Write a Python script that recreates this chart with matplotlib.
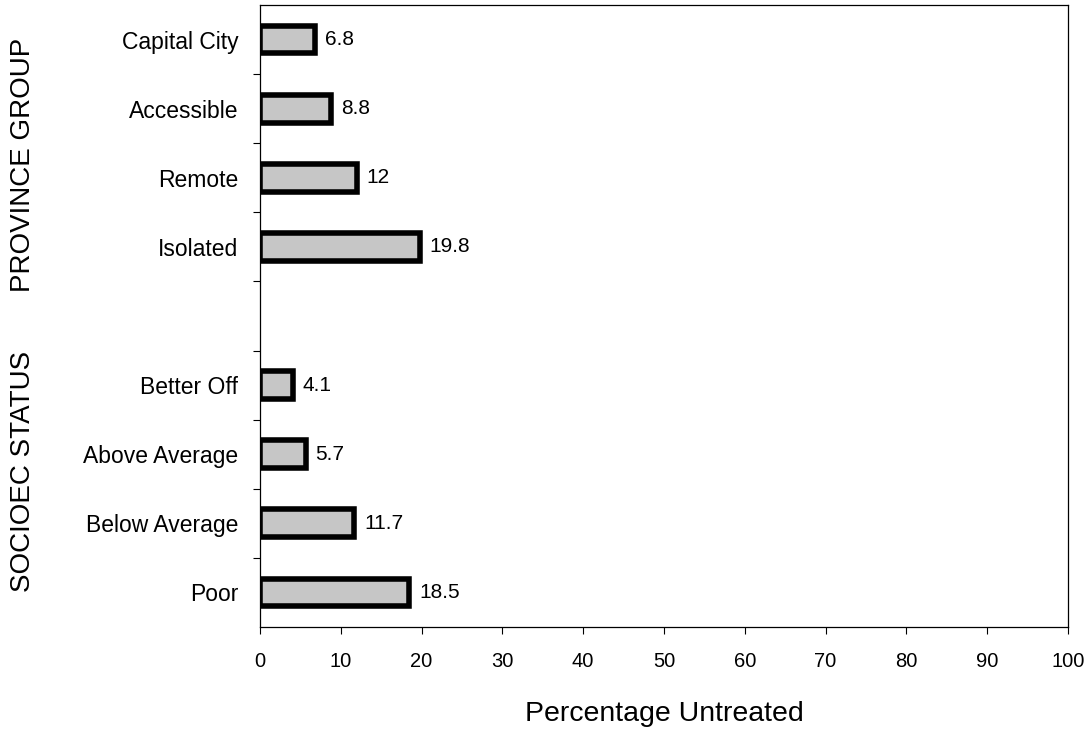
import matplotlib.pyplot as plt

plt.rcParams['font.family'] = ['Liberation Sans', 'DejaVu Sans']

# province group
province_labels = ["Capital City", "Accessible", "Remote", "Isolated"]
province_values = [6.8, 8.8, 12, 19.8]
# socioeconomic status
status_labels = ["Better Off", "Above Average", "Below Average", "Poor"]
status_values = [4.1, 5.7, 11.7, 18.5]

labels = province_labels + [""] + status_labels
values = province_values + [None] + status_values

fig = plt.figure(figsize=(10.92, 7.29), dpi=100)
ax = fig.add_axes([0.238, 0.14, 0.74, 0.853])

pos = list(range(len(labels)))
for p, v in zip(pos, values):
    if v is None:
        continue
    ax.barh(p, v, height=0.4, color="#c6c6c6", edgecolor="black", linewidth=4)
    ax.text(v + 1.2, p, f"{v:g}", va="center", ha="left", fontsize=15)

ax.set_ylim(len(labels) - 0.5, -0.5)
ax.set_xlim(0, 100)
ax.set_xticks(range(0, 101, 10))
ax.set_yticks(pos)
ax.set_yticklabels(labels)
ax.set_yticks([p + 0.5 for p in pos[:-1]], minor=True)
ax.tick_params(axis="y", which="major", length=0, pad=15.5, labelsize=16.5)
ax.tick_params(axis="y", which="minor", length=5, width=0.8, direction="out")
ax.tick_params(axis="x", length=5, width=0.8, direction="out", pad=13, labelsize=14.5)
for s in ax.spines.values():
    s.set_linewidth(0.9)

ax.set_xlabel("Percentage Untreated", fontsize=20.5, labelpad=22)

fig.text(0.021, 1 - 165 / 729, "PROVINCE GROUP", rotation=90, va="center", ha="center", fontsize=20)
fig.text(0.021, 1 - 471 / 729, "SOCIOEC STATUS", rotation=90, va="center", ha="center", fontsize=20)

fig.savefig("out.png", dpi=100)
